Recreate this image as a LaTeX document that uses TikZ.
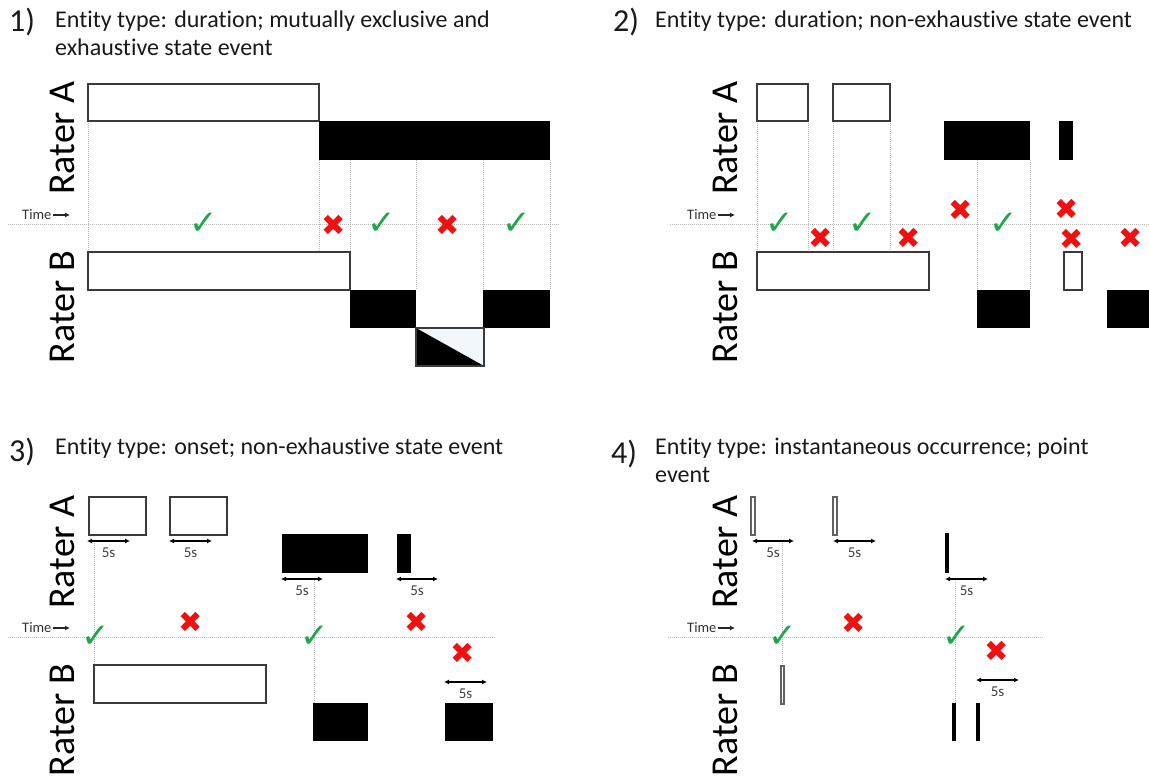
\documentclass[tikz,border=0pt]{standalone}
\usepackage{fontspec}
\setmainfont{Carlito}[Ligatures=NoCommon]
\newfontfamily\symfont{DejaVu Sans}
\usetikzlibrary{arrows.meta,calc}

\definecolor{boxgray}{HTML}{3A3A3A}
\definecolor{gridgray}{HTML}{BDBDBD}
\definecolor{okgreen}{HTML}{1FA64A}
\definecolor{badred}{HTML}{F01010}
\definecolor{paleblue}{HTML}{F2F7FC}
\definecolor{labelgray}{HTML}{404040}

\tikzset{
  wbox/.style={draw=boxgray, line width=1.5pt, fill=white},
  bbox/.style={fill=black},
  openbar/.style={draw=boxgray!80, line width=1.1pt, fill=white},
  grid/.style={draw=gridgray, line width=0.9pt, dash pattern=on 1pt off 1pt},
  rater/.style={rotate=90, inner sep=0pt, font=\fontsize{38}{40}\selectfont},
  title/.style={anchor=base west, inner sep=0pt, font=\fontsize{24}{26}\selectfont, text=black!90},
  number/.style={anchor=base west, inner sep=0pt, font=\fontsize{32}{34}\selectfont, text=black!90},
  timelbl/.style={anchor=west, inner sep=0pt, font=\fontsize{14.5}{16}\selectfont, text=black!80},
  timearrow/.style={-{Latex[length=5pt,width=5pt]}, line width=1.3pt, black!85},
  okmark/.style={inner sep=0pt, text=okgreen, font=\symfont\fontsize{34}{34}\selectfont},
  badmark/.style={inner sep=0pt, text=badred, font=\symfont\fontsize{29}{29}\selectfont},
  fivearrow/.style={{Latex[length=5pt,width=5pt]}-{Latex[length=5pt,width=5pt]}, line width=1.5pt, black},
  fivelbl/.style={inner sep=0pt, text=labelgray, font=\fontsize{15}{16}\selectfont}
}

% drawing helpers
\newcommand\wrect[4]{\draw[wbox] (#1,#2) rectangle (#3,#4);}
\newcommand\brect[4]{\fill[bbox] (#1,#2) rectangle (#3,#4);}
\newcommand\obar[4]{\draw[openbar] (#1,#2) rectangle (#3,#4);}
\newcommand\vgrid[3]{\draw[grid] (#1,#2) -- (#1,#3);}
\newcounter{mk}
\newcommand\putok[2]{\stepcounter{mk}\node[okmark] (ok\themk) at (#1,#2) {✓};}
\newcommand\putbad[2]{\stepcounter{mk}\node[badmark] (bad\themk) at (#1,#2) {✖};}
\newcommand\fivespan[3]{\stepcounter{mk}%
  \coordinate (fa\themk) at (#1,#3);
  \coordinate (fb\themk) at (#2,#3);
  \draw[fivearrow] (fa\themk) -- (fb\themk);
  \node[fivelbl] (fl\themk) at ($(fa\themk)!0.5!(fb\themk)+(0,12)$) {5s};}
\newcommand\timeaxis[4]{\stepcounter{mk}%
  \draw[grid] (#1,#3) -- (#2,#3);
  \node[timelbl] (tl\themk) at (#4,#3-9) {Time};
  \coordinate (te\themk) at (#4+48,#3-9);
  \draw[timearrow] ([xshift=1pt]tl\themk.east) -- (te\themk);}

\begin{document}
\begin{tikzpicture}[x=1pt,y=-1pt]
\useasboundingbox (0,0) rectangle (1149,776);

% ---------------- panel 1 ----------------
\node[number] (n1) at (9,32) {1)};
\node[title] (t1a) at (55,28) {Entity type: duration; mutually exclusive and};
\node[title] (t1b) at (55,56) {exhaustive state event};
\node[rater] (ra1) at (62,138) {Rater A};
\node[rater] (rb1) at (62,307) {Rater B};
\vgrid{88}{121}{252}
\vgrid{319}{160}{252}
\vgrid{350}{160}{252}
\vgrid{416}{160}{290}
\vgrid{483}{160}{290}
\vgrid{550}{160}{290}
\timeaxis{8}{560}{224}{22}
\wrect{88}{84}{319}{121}
\brect{319}{121}{550}{160}
\wrect{88}{252}{350}{290}
\brect{350}{290}{416}{328}
\brect{483}{290}{550}{328}
\fill[paleblue] (416,328) rectangle (484,366);
\fill[black] (416,328) -- (484,366) -- (416,366) -- cycle;
\draw[draw=boxgray, line width=1.5pt] (416,328) rectangle (484,366);
\putok{204}{224}
\putbad{334}{225}
\putok{382}{224}
\putbad{448}{225}
\putok{517}{224}

% ---------------- panel 2 ----------------
\node[number] (n2) at (613,32) {2)};
\node[title] (t2) at (655,28) {Entity type: duration; non-exhaustive state event};
\node[rater] (ra2) at (725,138) {Rater A};
\node[rater] (rb2) at (725,307) {Rater B};
\vgrid{757}{121}{252}
\vgrid{808}{121}{252}
\vgrid{833}{121}{252}
\vgrid{890}{121}{252}
\vgrid{977}{160}{290}
\vgrid{1030}{160}{290}
\timeaxis{670}{1149}{224}{687}
\wrect{757}{84}{808}{121}
\wrect{833}{84}{890}{121}
\brect{944}{121}{1030}{160}
\brect{1059}{121}{1073}{160}
\wrect{757}{252}{929}{290}
\wrect{1064}{252}{1082}{290}
\brect{977}{290}{1030}{328}
\brect{1107}{290}{1149}{328}
\putok{780}{224}
\putbad{821}{238}
\putok{863}{224}
\putbad{909}{238}
\putbad{961}{210}
\putok{1004}{224}
\putbad{1067}{209}
\putbad{1072}{239}
\putbad{1131}{238}

% ---------------- panel 3 ----------------
\node[number] (n3) at (9,461) {3)};
\node[title] (t3) at (55,454) {Entity type: onset; non-exhaustive state event};
\node[rater] (ra3) at (62,552) {Rater A};
\node[rater] (rb3) at (62,720) {Rater B};
\vgrid{94}{541}{665}
\vgrid{314}{580}{703}
\timeaxis{8}{495}{637}{22}
\wrect{89}{497}{146}{535}
\wrect{170}{497}{227}{535}
\fivespan{87}{130}{541}
\fivespan{169}{212}{541}
\brect{282}{534}{368}{573}
\fivespan{281}{323}{579}
\brect{397}{534}{411}{573}
\fivespan{396}{438}{579}
\wrect{94}{665}{266}{703}
\brect{313}{703}{368}{741}
\brect{445}{703}{493}{741}
\fivespan{444}{487}{682}
\putok{96}{637}
\putbad{191}{622}
\putok{315}{637}
\putbad{417}{622}
\putbad{463}{653}

% ---------------- panel 4 ----------------
\node[number] (n4) at (611,463) {4)};
\node[title] (t4a) at (655,454) {Entity type: instantaneous occurrence; point};
\node[title] (t4b) at (655,482) {event};
\node[rater] (ra4) at (725,552) {Rater A};
\node[rater] (rb4) at (725,720) {Rater B};
\vgrid{782}{541}{666}
\vgrid{955}{580}{703}
\timeaxis{668}{1043}{637}{687}
\obar{751}{497}{755}{535}
\fivespan{752}{794}{541}
\obar{833}{497}{837}{535}
\fivespan{833}{876}{541}
\brect{945}{533}{949}{573}
\fivespan{945}{988}{579}
\obar{781}{666}{784}{704}
\brect{952}{703}{956}{741}
\brect{976}{703}{980}{741}
\fivespan{976}{1019}{680}
\putok{783}{637}
\putbad{854}{623}
\putok{957}{637}
\putbad{997}{651}
\end{tikzpicture}
\end{document}
